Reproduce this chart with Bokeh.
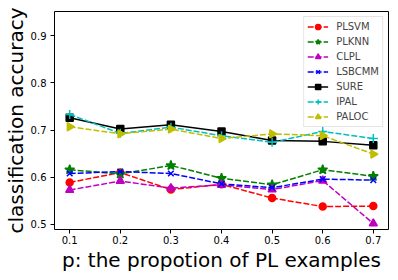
import numpy as np
from bokeh.plotting import figure
from bokeh.models import FixedTicker, Range1d, Legend
from bokeh.embed import file_html
from bokeh.resources import INLINE

x = [0.1, 0.2, 0.3, 0.4, 0.5, 0.6, 0.7]
x_ticks = [0.1, 0.2, 0.3, 0.4, 0.5, 0.6, 0.7]
y_ticks = [0.5, 0.6, 0.7, 0.8, 0.9]

plsvm = [0.589, 0.610, 0.574, 0.585, 0.556, 0.538, 0.539]
plknn = [0.616, 0.607, 0.625, 0.598, 0.584, 0.616, 0.602]
clpl = [0.573, 0.592, 0.577, 0.584, 0.574, 0.593, 0.502]
lsbcmm = [0.608, 0.612, 0.608, 0.586, 0.578, 0.596, 0.594]
sure = [0.726, 0.702, 0.711, 0.697, 0.678, 0.676, 0.668]
ipal = [0.733, 0.693, 0.706, 0.688, 0.674, 0.697, 0.682]
paloc = [0.707, 0.692, 0.702, 0.682, 0.692, 0.688, 0.649]

series = [
    ("PLSVM", plsvm, "#ff0000", "circle", "6 2", 7, 0.0),
    ("PLKNN", plknn, "#008000", "star", "6 2", 10, 0.0),
    ("CLPL", clpl, "#bf00bf", "triangle", "6 2", 8, 0.0),
    ("LSBCMM", lsbcmm, "#0000ff", "x", "6 2", 8, 0.0),
    ("SURE", sure, "#000000", "square", "solid", 7, 0.0),
    ("IPAL", ipal, "#00bfbf", "cross", "6 2", 9, 0.0),
    ("PALOC", paloc, "#bfbf00", "triangle", "6 2", 8, -np.pi / 2),
]

p = figure(width=398, height=280, output_backend="svg", toolbar_location=None,
           x_range=Range1d(0.07, 0.73), y_range=Range1d(0.4894, 0.951),
           min_border_left=53, min_border_right=10, min_border_top=11, min_border_bottom=51)

p.xgrid.visible = False
p.ygrid.visible = False
p.outline_line_color = "black"
p.outline_line_width = 1
p.background_fill_color = "white"
p.border_fill_color = "white"

for ax in (p.xaxis[0], p.yaxis[0]):
    ax.axis_line_color = None
    ax.major_tick_in = 0
    ax.major_tick_out = 4
    ax.minor_tick_line_color = None
    ax.major_label_text_font = "DejaVu Sans"
    ax.major_label_text_font_size = "10px"
    ax.major_label_text_color = "#000000"
    ax.axis_label_text_font = "DejaVu Sans"
    ax.axis_label_text_font_size = "20px"
    ax.axis_label_text_font_style = "normal"
    ax.axis_label_text_color = "black"

p.yaxis.major_label_standoff = 4
p.yaxis.axis_label_standoff = 0
p.xaxis.major_label_standoff = 2
p.xaxis.axis_label_standoff = 1

p.xaxis.ticker = FixedTicker(ticks=x_ticks)
p.yaxis.ticker = FixedTicker(ticks=y_ticks)
p.xaxis.axis_label = "p: the propotion of PL examples"
p.yaxis.axis_label = "classification accuracy"

items = []
for name, vals, color, marker, dash, size, ang in series:
    r1 = p.line(x, vals, line_color=color, line_width=1.5, line_dash=dash)
    r2 = p.scatter(x, vals, marker=marker, size=size, angle=ang,
                   fill_color=color, line_color=color, line_width=1.5)
    items.append((name, [r1, r2]))

legend = Legend(items=items, location="top_right")
legend.label_text_font = "DejaVu Sans"
legend.label_text_font_size = "10px"
legend.glyph_height = 13
legend.label_height = 13
legend.glyph_width = 21
legend.label_standoff = 8
legend.spacing = 2
legend.padding = 3
legend.margin = 5
legend.border_line_color = "#cccccc"
legend.background_fill_alpha = 0.8
p.add_layout(legend)

open("out.html", "w").write(file_html(p, INLINE))
